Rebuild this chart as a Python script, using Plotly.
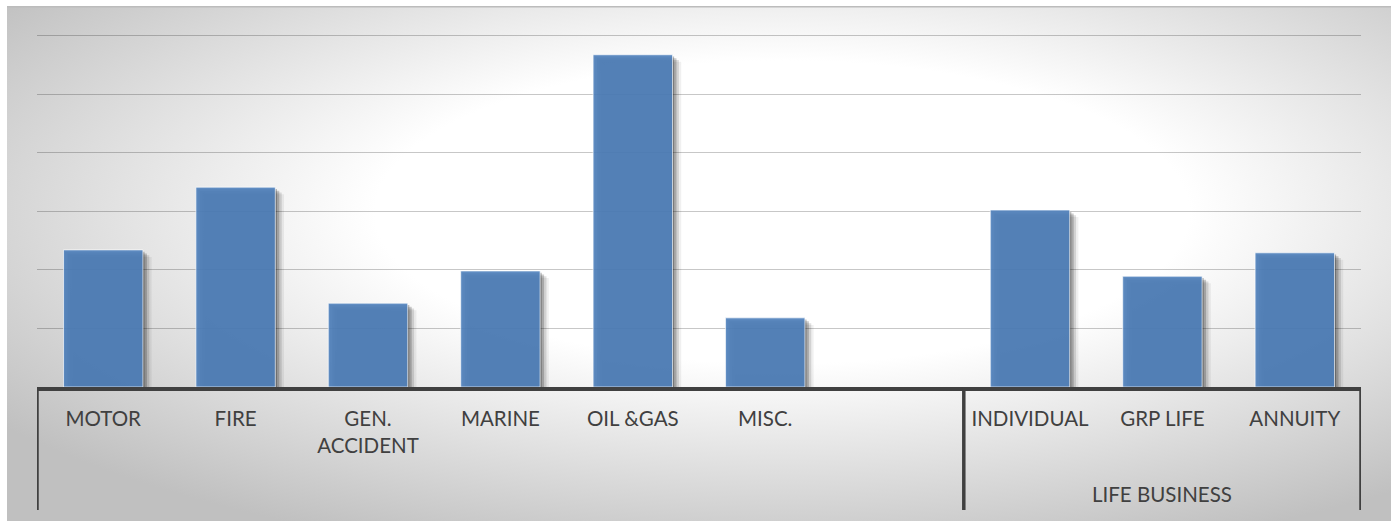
import base64
import plotly.graph_objects as go

categories = ["MOTOR", "FIRE", "GEN.<br>ACCIDENT", "MARINE", "OIL &GAS", "MISC.", " ",
              "INDIVIDUAL", "GRP LIFE", "ANNUITY"]
values = [2.34, 3.41, 1.43, 1.98, 5.67, 1.18, None, 3.02, 1.89, 2.29]
group_label = "LIFE BUSINESS"
group_span = [6.5, 9.5]
group_dividers = [-0.5, 6.5, 9.5]

W, H = 1400, 521
L, R, T, B = 37, 39, 30, 134
plot_w = W - L - R
plot_h = H - T - B
unit_px = 58.6
y_top = plot_h / unit_px

def py(px):
    return (H - B - px) / plot_h

def px_x(px):
    return (px - L) / plot_w

svg = ('<svg xmlns="http://www.w3.org/2000/svg" width="1384" height="515" preserveAspectRatio="none">'
       '<defs><radialGradient id="g" cx="0.56" cy="0.4" r="0.7" fx="0.56" fy="0.4">'
       '<stop offset="0" stop-color="#ffffff"/><stop offset="0.42" stop-color="#ffffff"/>'
       '<stop offset="1" stop-color="#c0c0c0"/></radialGradient></defs>'
       '<rect x="0" y="0" width="1384" height="515" fill="url(#g)"/>'
       '<rect x="0" y="0" width="1384" height="1.5" fill="#bcbcbc"/></svg>')
src = "data:image/svg+xml;base64," + base64.b64encode(svg.encode()).decode()

fig = go.Figure()

shadow_layers = [(0.012, 0.03, 0.28), (0.03, 0.06, 0.2), (0.048, 0.09, 0.12), (0.066, 0.12, 0.06)]
for dx, dy, a in shadow_layers:
    sy = [None if v is None else max(v - dy, 0) for v in values]
    fig.add_trace(go.Bar(x=categories, y=sy, width=0.6, offset=-0.3 + dx,
                         marker=dict(color=f"rgba(0,0,0,{a})", line=dict(width=0)),
                         hoverinfo="skip", showlegend=False))

fig.add_trace(go.Bar(x=categories, y=values, width=0.6, offset=-0.3,
                     marker=dict(color="rgba(79,129,189,0.9)",
                                 line=dict(color="rgba(255,255,255,0.65)", width=1)),
                     showlegend=False))

shapes = []
for d in group_dividers:
    shapes.append(dict(type="line", xref="x", yref="paper", x0=d, x1=d,
                       y0=0, y1=py(510), line=dict(color="#404040", width=3.5)))

fig.update_layout(
    width=W, height=H,
    margin=dict(l=L, r=R, t=T, b=B),
    paper_bgcolor="white",
    plot_bgcolor="rgba(0,0,0,0)",
    barmode="overlay",
    font=dict(family="Lato", size=20.5, color="#404040"),
    xaxis=dict(type="category", categoryorder="array", categoryarray=categories,
               range=[-0.5, 9.5], showgrid=False, showline=True, linecolor="#404040",
               linewidth=3.5, ticks="", ticklabelstandoff=11, zeroline=False,
               tickfont=dict(family="Lato", size=20.5, color="#404040")),
    yaxis=dict(range=[0, y_top], dtick=1, showticklabels=False, ticks="",
               gridcolor="rgba(0,0,0,0.22)", gridwidth=1.3, zeroline=False,
               showline=False),
    images=[dict(source=src, xref="paper", yref="paper",
                 x=px_x(7), y=py(6), sizex=(1391 - 7) / plot_w, sizey=(521 - 6) / plot_h,
                 xanchor="left", yanchor="top", sizing="stretch", layer="below")],
    shapes=shapes,
    annotations=[dict(text=group_label, xref="x", yref="paper", yanchor="middle",
                      x=sum(group_span) / 2, y=py(494), showarrow=False,
                      font=dict(family="Lato", size=20.5, color="#404040"))],
)

fig.write_html("out.html")
